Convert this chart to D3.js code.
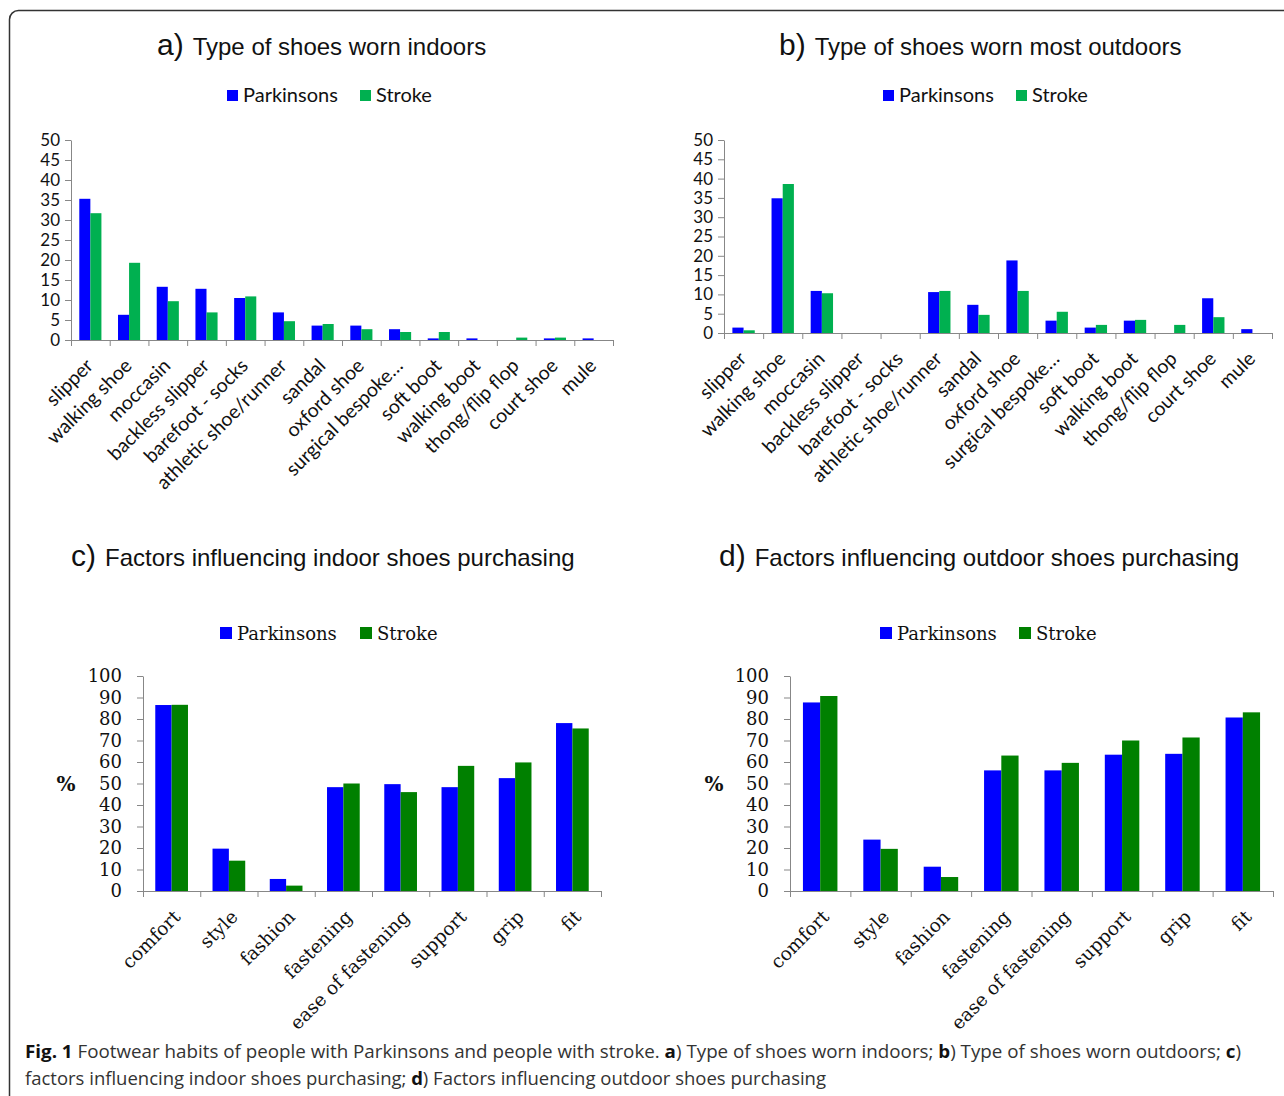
<!DOCTYPE html>
<html>
<head>
<meta charset="utf-8">
<script src="https://cdn.jsdelivr.net/npm/d3@7"></script>
<style>
  body { margin: 0; background: #fff; }
  svg { display: block; }
</style>
</head>
<body>
<div id="chart"></div>
<script>
// chart data
const shoeTypes = ["slipper", "walking shoe", "moccasin", "backless slipper", "barefoot - socks",
  "athletic shoe/runner", "sandal", "oxford shoe", "surgical bespoke…", "soft boot",
  "walking boot", "thong/flip flop", "court shoe", "mule"];
const indoorParkinsons = [35.3, 6.3, 13.3, 12.8, 10.5, 6.9, 3.6, 3.6, 2.7, 0.4, 0.4, 0, 0.4, 0.4];
const indoorStroke = [31.7, 19.3, 9.7, 6.9, 10.9, 4.7, 4.0, 2.7, 2.0, 2.0, 0, 0.6, 0.6, 0];
const outdoorParkinsons = [1.4, 34.9, 10.9, 0, 0, 10.6, 7.3, 18.8, 3.2, 1.4, 3.2, 0, 9.0, 1.0];
const outdoorStroke = [0.7, 38.6, 10.3, 0, 0, 10.9, 4.7, 10.9, 5.5, 2.1, 3.4, 2.1, 4.1, 0];

const factors = ["comfort", "style", "fashion", "fastening", "ease of fastening", "support", "grip", "fit"];
const indoorFactorsParkinsons = [86.5, 19.7, 5.6, 48.3, 49.7, 48.3, 52.5, 78.1];
const indoorFactorsStroke = [86.6, 14.1, 2.5, 50.0, 46.0, 58.2, 59.8, 75.6];
const outdoorFactorsParkinsons = [87.7, 23.9, 11.3, 56.1, 56.1, 63.4, 63.8, 80.7];
const outdoorFactorsStroke = [90.7, 19.6, 6.5, 63.0, 59.6, 70.0, 71.4, 83.1];

const shoeTicks = [0, 5, 10, 15, 20, 25, 30, 35, 40, 45, 50];
const factorTicks = [0, 10, 20, 30, 40, 50, 60, 70, 80, 90, 100];
const seriesNames = ["Parkinsons", "Stroke"];

// svg dimensions
let svgWidth = 1284,
  svgHeight = 1096;

let svg = d3
  .select("#chart")
  .append("svg")
  .attr("width", svgWidth)
  .attr("height", svgHeight);

// figure frame (runs off the right and bottom edge)
svg
  .append("rect")
  .attr("x", 9.5)
  .attr("y", 10.5)
  .attr("width", 1320)
  .attr("height", 1120)
  .attr("rx", 9)
  .attr("fill", "none")
  .attr("stroke", "#333")
  .attr("stroke-width", 1.5);

const axisColor = "#878787";

// one panel = title, legend, axes and grouped bars
function drawPanel(p) {
  let g = svg.append("g");

  // title: big letter then text
  let title = g
    .append("text")
    .attr("x", p.titleX)
    .attr("y", p.titleY)
    .attr("font-family", "Liberation Sans, Arial, sans-serif")
    .attr("fill", "#111");
  title.append("tspan").attr("font-size", 30).text(p.letter);
  title.append("tspan").attr("font-size", 24).attr("dx", 9).text(p.title);

  // legend
  p.legend.forEach((lx, i) => {
    g.append("rect")
      .attr("x", lx)
      .attr("y", p.legendY - p.legendBox - 1)
      .attr("width", p.legendBox)
      .attr("height", p.legendBox)
      .attr("fill", p.colors[i]);
    g.append("text")
      .attr("x", lx + p.legendBox + 5)
      .attr("y", p.legendY)
      .attr("font-family", p.font)
      .attr("font-size", p.legendSize)
      .attr("fill", "#111")
      .text(seriesNames[i]);
  });

  // scales
  let y = d3.scaleLinear().domain([0, d3.max(p.ticks)]).range([p.y0, p.y1]);
  let xBand = d3.scaleBand().domain(p.cats).range([p.x0, p.x1]).paddingInner(0).paddingOuter(0);
  let xEdge = d3.scaleLinear().domain([0, p.cats.length]).range([p.x0, p.x1]);
  let barW = xBand.bandwidth() / 3.5;

  // y axis
  let yAxis = g
    .append("g")
    .attr("transform", `translate(${p.x0}, 0)`)
    .call(d3.axisLeft(y).tickValues(p.ticks).tickSize(6).tickSizeOuter(0).tickPadding(p.tickPad));
  yAxis.select(".domain").attr("stroke", axisColor);
  yAxis.selectAll(".tick line").attr("stroke", axisColor);
  yAxis
    .selectAll(".tick text")
    .attr("font-family", p.font)
    .attr("font-size", p.tickSize)
    .attr("fill", "#111");

  // bars
  let series = [p.parkinsons, p.stroke];
  series.forEach((vals, s) => {
    g.selectAll(null)
      .data(p.cats)
      .enter()
      .append("rect")
      .attr("x", (d) => xBand(d) + barW * 0.75 + s * barW)
      .attr("y", (d, i) => y(vals[i]))
      .attr("width", barW)
      .attr("height", (d, i) => p.y0 - y(vals[i]))
      .attr("fill", p.colors[s]);
  });

  // x axis with ticks between categories
  let xAxis = g
    .append("g")
    .attr("transform", `translate(0, ${p.y0})`)
    .call(d3.axisBottom(xEdge).tickValues(d3.range(p.cats.length + 1)).tickFormat("").tickSize(6).tickSizeOuter(0));
  xAxis.select(".domain").attr("stroke", axisColor);
  xAxis.selectAll(".tick line").attr("stroke", axisColor);

  // rotated category labels
  let labels = g
    .append("g")
    .attr("transform", `translate(0, ${p.y0})`)
    .call(d3.axisBottom(xBand).tickSize(0).tickPadding(0));
  labels.select(".domain").remove();
  labels
    .selectAll(".tick text")
    .attr("font-family", p.font)
    .attr("font-size", p.catSize)
    .attr("fill", "#111")
    .attr("text-anchor", "end")
    .attr("dy", 0)
    .attr("y", 0)
    .attr("transform", `translate(${p.labelDx}, ${p.labelDy}) rotate(-45)`);

  // y axis unit
  if (p.unit) {
    g.append("text")
      .attr("x", p.unitX)
      .attr("y", (p.y0 + p.y1) / 2 + 7)
      .attr("text-anchor", "middle")
      .attr("font-family", p.font)
      .attr("font-weight", "bold")
      .attr("font-size", 20)
      .attr("fill", "#111")
      .text(p.unit);
  }
}

const calibri = "Lato, 'Open Sans', sans-serif";
const cambria = "'DejaVu Serif', serif";

drawPanel({
  letter: "a)", title: "Type of shoes worn indoors", titleX: 157, titleY: 55,
  legend: [227, 360], legendY: 102, legendBox: 11, legendSize: 20,
  font: calibri, tickSize: 17, catSize: 19.5, tickPad: 5,
  cats: shoeTypes, parkinsons: indoorParkinsons, stroke: indoorStroke,
  colors: ["#0000ff", "#00b050"], ticks: shoeTicks,
  x0: 71, x1: 613, y0: 340, y1: 140, labelDx: 4, labelDy: 27,
});

drawPanel({
  letter: "b)", title: "Type of shoes worn most outdoors", titleX: 779, titleY: 55,
  legend: [883, 1016], legendY: 102, legendBox: 11, legendSize: 20,
  font: calibri, tickSize: 17, catSize: 19.5, tickPad: 5,
  cats: shoeTypes, parkinsons: outdoorParkinsons, stroke: outdoorStroke,
  colors: ["#0000ff", "#00b050"], ticks: shoeTicks,
  x0: 724, x1: 1272, y0: 333, y1: 140, labelDx: 4, labelDy: 27,
});

drawPanel({
  letter: "c)", title: "Factors influencing indoor shoes purchasing", titleX: 71, titleY: 566,
  legend: [220, 360], legendY: 640, legendBox: 12, legendSize: 18,
  font: cambria, tickSize: 18, catSize: 18.5, tickPad: 15, unit: "%", unitX: 66,
  cats: factors, parkinsons: indoorFactorsParkinsons, stroke: indoorFactorsStroke,
  colors: ["#0000ff", "#008000"], ticks: factorTicks,
  x0: 143, x1: 601, y0: 891, y1: 676, labelDx: 10, labelDy: 27,
});

drawPanel({
  letter: "d)", title: "Factors influencing outdoor shoes purchasing", titleX: 719, titleY: 566,
  legend: [880, 1019], legendY: 640, legendBox: 12, legendSize: 18,
  font: cambria, tickSize: 18, catSize: 18.5, tickPad: 15, unit: "%", unitX: 714,
  cats: factors, parkinsons: outdoorFactorsParkinsons, stroke: outdoorFactorsStroke,
  colors: ["#0000ff", "#008000"], ticks: factorTicks,
  x0: 790, x1: 1273, y0: 891, y1: 676, labelDx: 10, labelDy: 27,
});

// caption
const captionLines = [
  [["Fig. 1", true], [" Footwear habits of people with Parkinsons and people with stroke. ", false],
   ["a", true], [") Type of shoes worn indoors; ", false], ["b", true],
   [") Type of shoes worn outdoors; ", false], ["c", true], [")", false]],
  [["factors influencing indoor shoes purchasing; ", false], ["d", true],
   [") Factors influencing outdoor shoes purchasing", false]],
];
const captionWidths = [1216, 801];

captionLines.forEach((parts, i) => {
  let t = svg
    .append("text")
    .attr("x", 25)
    .attr("y", 1058 + i * 27)
    .attr("font-family", "'Open Sans', sans-serif")
    .attr("font-size", 18)
    .attr("fill", "#222")
    .attr("textLength", captionWidths[i])
    .attr("lengthAdjust", "spacingAndGlyphs");
  parts.forEach(([txt, bold]) => {
    t.append("tspan")
      .attr("font-weight", bold ? "bold" : "normal")
      .attr("fill", bold ? "#111" : "#333")
      .text(txt);
  });
});
</script>
</body>
</html>
